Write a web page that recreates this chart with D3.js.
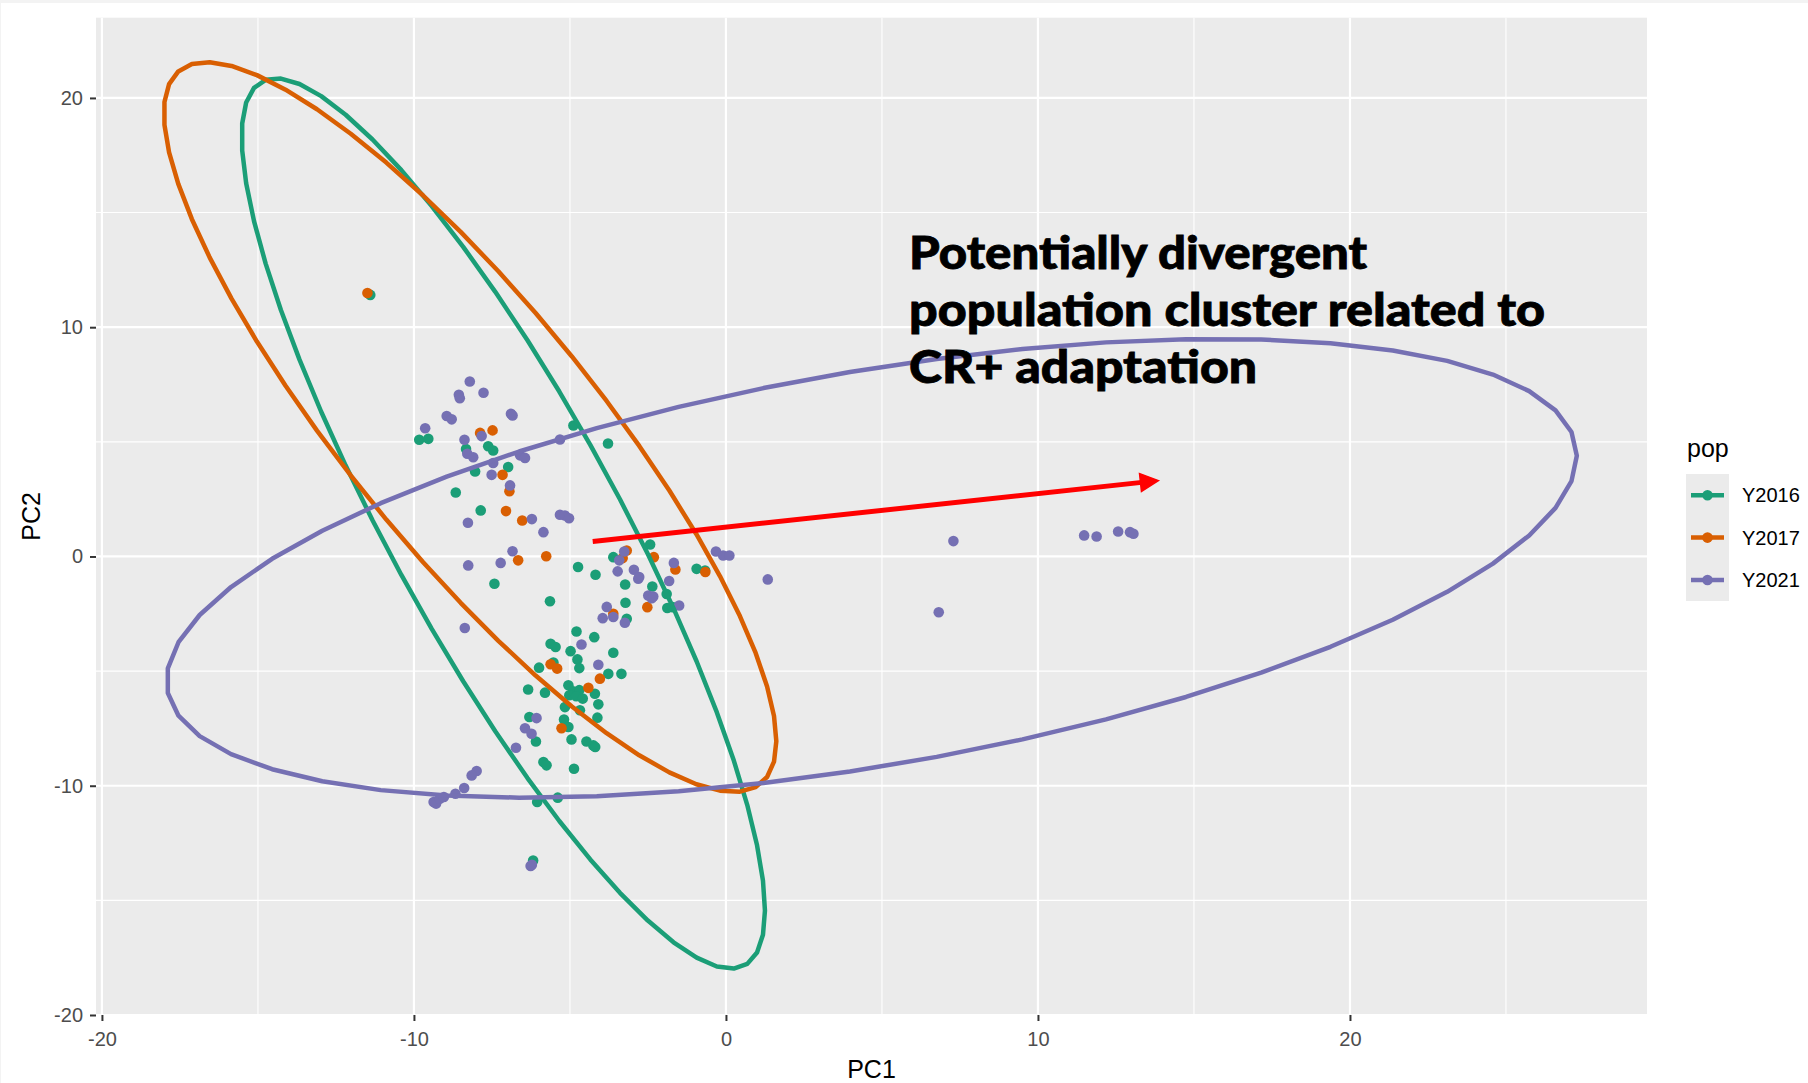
<!DOCTYPE html>
<html lang="en">
<head>
    <meta charset="utf-8">
    <style>
        body { margin: 0; background: #f3f3f3; }
        svg { display: block; }
    </style>
</head>
<body>
    <svg width="1808" height="1083"></svg>
    <script src="https://cdn.jsdelivr.net/npm/d3@7"></script>
    <script>
        // ---------------- data ----------------
        const populations = ["Y2016", "Y2017", "Y2021"];
        const popColors = ["#1B9E77", "#D95F02", "#7570B3"];

        const y2016Points = [
            [-9.83, 5.09], [-9.54, 5.13], [-4.89, 5.71], [-3.78, 4.93], [-8.33, 4.69], [-7.62, 4.81],
            [-7.46, 4.62], [-6.98, 3.90], [-8.04, 3.71], [-8.66, 2.79], [-7.86, 2.01], [-7.42, -1.19],
            [-5.64, -1.95], [-4.74, -0.46], [-4.18, -0.80], [-3.61, -0.03], [-2.43, 0.52], [-3.23, -1.22],
            [-2.36, -1.31], [-1.90, -1.64], [-1.88, -2.25], [-1.71, -2.21], [-3.22, -2.02], [-3.18, -2.72],
            [-0.94, -0.54], [-0.67, -0.61], [-4.79, -3.27], [-4.22, -3.52], [-5.62, -3.81], [-5.46, -3.95],
            [-4.98, -4.13], [-3.61, -4.20], [-4.76, -4.49], [-4.70, -4.87], [-5.99, -4.85], [-5.53, -4.63],
            [-3.77, -5.12], [-3.35, -5.12], [-6.34, -5.80], [-5.80, -5.94], [-5.05, -5.62], [-4.90, -5.88],
            [-4.70, -5.83], [-5.02, -6.05], [-4.80, -6.10], [-4.59, -6.20], [-4.20, -5.99], [-4.09, -6.45],
            [-5.16, -6.57], [-4.68, -6.71], [-4.12, -7.03], [-5.19, -7.11], [-6.30, -7.00], [-5.05, -7.44],
            [-4.95, -7.98], [-4.47, -8.07], [-4.25, -8.24], [-4.19, -8.31], [-6.09, -8.07], [-5.85, -8.97],
            [-5.75, -9.11], [-4.87, -9.26], [-6.05, -10.71], [-5.39, -10.52], [-6.18, -13.26], [-11.40, 11.41]
        ];
        const y2017Points = [
            [-11.49, 11.49], [-7.88, 5.39], [-7.48, 5.50], [-7.16, 3.56], [-6.94, 2.85], [-7.05, 1.98],
            [-6.53, 1.57], [-6.66, -0.17], [-5.76, 0.01], [-3.18, 0.26], [-3.31, -0.07], [-2.31, -0.03],
            [-1.62, -0.57], [-0.66, -0.68], [-2.52, -2.21], [-3.61, -2.50], [-5.62, -4.70], [-5.41, -4.89],
            [-4.04, -5.33], [-4.41, -5.73], [-5.27, -7.49]
        ];
        const y2021Points = [
            [-8.21, 7.63], [-8.56, 7.05], [-8.53, 6.90], [-7.77, 7.14], [-8.95, 6.13], [-8.79, 5.98],
            [-6.89, 6.22], [-6.84, 6.15], [-9.64, 5.59], [-8.38, 5.09], [-7.83, 5.25], [-8.29, 4.48],
            [-8.10, 4.33], [-7.46, 4.08], [-6.60, 4.41], [-6.44, 4.30], [-5.32, 5.10], [-7.51, 3.56],
            [-6.92, 3.10], [-8.27, 1.47], [-6.22, 1.63], [-5.85, 1.06], [-5.32, 1.82], [-5.16, 1.79],
            [-5.03, 1.67], [-6.84, 0.23], [-8.26, -0.39], [-7.22, -0.28], [-3.26, 0.22], [-3.42, -0.17],
            [-3.47, -0.65], [-2.95, -0.58], [-2.81, -0.97], [-2.78, -0.90], [-1.67, -0.28], [-1.82, -1.07],
            [-2.49, -1.70], [-2.38, -1.82], [-2.33, -1.75], [-1.50, -2.14], [-0.32, 0.22], [-0.09, 0.04],
            [0.11, 0.04], [1.34, -1.00], [-3.82, -2.20], [-3.95, -2.69], [-3.61, -2.64], [-3.24, -2.89],
            [-8.37, -3.12], [-4.63, -3.84], [-4.09, -4.72], [-6.07, -7.05], [-6.44, -7.49], [-6.23, -7.73],
            [-6.73, -8.34], [-7.99, -9.36], [-8.15, -9.55], [-9.37, -10.71], [-9.29, -10.78], [-9.17, -10.57],
            [-9.04, -10.49], [-8.67, -10.35], [-8.39, -10.10], [-6.26, -13.50], [-6.22, -13.45],
            [7.29, 0.67], [6.82, -2.43], [11.48, 0.92], [11.88, 0.87], [12.57, 1.09], [12.95, 1.06], [13.06, 0.99]
        ];

        // stat_ellipse results: centre and shape matrix (sxx, syy, sxy) per population
        const ellipseCenters = [[-7.135, 1.44], [-8.2, 5.645], [4.67, -0.515]];
        const ellipseShapes = [[70.31, 377.1, -141.6], [96.33, 253.3, -134.5], [510.8, 100.1, 111.0]];

        const xTicks = [-20, -10, 0, 10, 20];
        const yTicks = [-20, -10, 0, 10, 20];
        const xMinor = [-15, -5, 5, 15, 25];
        const yMinor = [-15, -5, 5, 15];

        const arrowFrom = [-4.27, 0.65];
        const arrowTo = [13.86, 3.31];
        const noteLines = ["Potentially divergent", "population cluster related to", "CR+ adaptation"];
        const notePos = [5.87, 12.55];

        // ---------------- layout ----------------
        const svg = d3.select("svg");
        svg.append("rect").attr("x", 1).attr("y", 3).attr("width", 1807).attr("height", 1080).attr("fill", "#fff");

        const panel = { left: 96, right: 1647, top: 17.7, bottom: 1015 };
        const x = d3.scaleLinear().domain([-20.19, 29.52]).range([panel.left, panel.right]);
        const y = d3.scaleLinear().domain([-20.0, 23.5]).range([panel.bottom, panel.top]);
        const font = "'Liberation Sans', Arial, sans-serif";

        svg.append("rect")
            .attr("x", panel.left).attr("y", panel.top)
            .attr("width", panel.right - panel.left).attr("height", panel.bottom - panel.top)
            .attr("fill", "#EBEBEB");

        const grid = svg.append("g");
        grid.selectAll(".vminor").data(xMinor).join("line")
            .attr("x1", d => x(d)).attr("x2", d => x(d)).attr("y1", panel.top).attr("y2", panel.bottom)
            .attr("stroke", "#fff").attr("stroke-width", 1.1);
        grid.selectAll(".hminor").data(yMinor).join("line")
            .attr("y1", d => y(d)).attr("y2", d => y(d)).attr("x1", panel.left).attr("x2", panel.right)
            .attr("stroke", "#fff").attr("stroke-width", 1.1);
        grid.selectAll(".vmajor").data(xTicks).join("line")
            .attr("x1", d => x(d)).attr("x2", d => x(d)).attr("y1", panel.top).attr("y2", panel.bottom)
            .attr("stroke", "#fff").attr("stroke-width", 2.2);
        grid.selectAll(".hmajor").data(yTicks).join("line")
            .attr("y1", d => y(d)).attr("y2", d => y(d)).attr("x1", panel.left).attr("x2", panel.right)
            .attr("stroke", "#fff").attr("stroke-width", 2.2);

        // axes
        const xAxis = svg.append("g").attr("transform", `translate(0, ${panel.bottom})`)
            .call(d3.axisBottom(x).tickValues(xTicks).tickSize(6).tickPadding(11).tickFormat(d3.format("d")));
        const yAxis = svg.append("g").attr("transform", `translate(${panel.left}, 0)`)
            .call(d3.axisLeft(y).tickValues(yTicks).tickSize(6).tickPadding(7).tickFormat(d3.format("d")));
        [xAxis, yAxis].forEach(a => {
            a.select(".domain").remove();
            a.selectAll(".tick line").attr("stroke", "#333").attr("stroke-width", 2);
            a.selectAll(".tick text").attr("fill", "#4D4D4D").style("font-family", font).style("font-size", "20px");
        });
        // plain hyphen-minus like R
        svg.selectAll(".tick text").text(d => String(d));

        svg.append("text").attr("x", (panel.left + panel.right) / 2).attr("y", 1078)
            .attr("text-anchor", "middle").style("font-family", font).style("font-size", "25px").text("PC1");
        svg.append("text").attr("transform", `translate(40, ${(panel.top + panel.bottom) / 2}) rotate(-90)`)
            .attr("text-anchor", "middle").style("font-family", font).style("font-size", "25px").text("PC2");

        // points
        const plot = svg.append("g");
        [y2016Points, y2017Points, y2021Points].forEach((pts, i) => {
            plot.append("g").selectAll("circle").data(pts).join("circle")
                .attr("cx", d => x(d[0])).attr("cy", d => y(d[1])).attr("r", 5.3)
                .attr("fill", popColors[i]);
        });

        // ellipses (51 segments, cholesky of shape matrix like stat_ellipse)
        const line = d3.line().x(d => x(d[0])).y(d => y(d[1])).curve(d3.curveLinearClosed);
        ellipseShapes.forEach((s, i) => {
            const [sxx, syy, sxy] = s;
            const r11 = Math.sqrt(sxx), r12 = sxy / r11, r22 = Math.sqrt(syy - r12 * r12);
            const c = ellipseCenters[i];
            const pts = d3.range(51).map(k => {
                const t = k / 51 * 2 * Math.PI;
                return [c[0] + Math.cos(t) * r11, c[1] + Math.cos(t) * r12 + Math.sin(t) * r22];
            });
            plot.append("path").attr("d", line(pts)).attr("fill", "none")
                .attr("stroke", popColors[i]).attr("stroke-width", 4.5).attr("stroke-linejoin", "round");
        });

        // arrow
        const x0 = x(arrowFrom[0]), y0 = y(arrowFrom[1]), x1 = x(arrowTo[0]), y1 = y(arrowTo[1]);
        const len = Math.hypot(x1 - x0, y1 - y0), ux = (x1 - x0) / len, uy = (y1 - y0) / len;
        const headLen = 18, headW = 9;
        svg.append("line").attr("x1", x0).attr("y1", y0)
            .attr("x2", x1 - ux * headLen * 0.8).attr("y2", y1 - uy * headLen * 0.8)
            .attr("stroke", "#FF0000").attr("stroke-width", 5);
        const bx = x1 - ux * headLen, by = y1 - uy * headLen;
        svg.append("polygon")
            .attr("points", [[x1, y1], [bx - uy * headW, by + ux * headW], [bx + uy * headW, by - ux * headW]].join(" "))
            .attr("fill", "#FF0000").attr("stroke", "#FF0000").attr("stroke-width", 1.5).attr("stroke-linejoin", "miter");

        // annotation
        const noteWidths = [458, 636, 348];
        svg.append("g").selectAll("text").data(noteLines).join("text")
            .attr("x", x(notePos[0])).attr("y", (d, i) => y(notePos[1]) + i * 57.3)
            .attr("textLength", (d, i) => noteWidths[i]).attr("lengthAdjust", "spacingAndGlyphs")
            .style("font-family", "Lato, 'Open Sans', sans-serif").style("font-weight", 900)
            .style("font-size", "45px").attr("fill", "#000")
            .attr("stroke", "#000").attr("stroke-width", 0.8).text(d => d);

        // legend
        const legend = svg.append("g");
        legend.append("text").attr("x", 1687).attr("y", 457)
            .style("font-family", font).style("font-size", "25px").text("pop");
        legend.append("rect").attr("x", 1686).attr("y", 474).attr("width", 43).attr("height", 127).attr("fill", "#EBEBEB");
        const keys = legend.selectAll(".key").data(populations).join("g")
            .attr("transform", (d, i) => `translate(1686, ${474 + 21.2 + i * 42.4})`);
        keys.append("line").attr("x1", 5).attr("x2", 38).attr("y1", 0).attr("y2", 0)
            .attr("stroke", (d, i) => popColors[i]).attr("stroke-width", 4.5);
        keys.append("circle").attr("cx", 21.5).attr("cy", 0).attr("r", 5.3).attr("fill", (d, i) => popColors[i]);
        keys.append("text").attr("x", 56).attr("y", 0).attr("dy", "0.35em")
            .style("font-family", font).style("font-size", "20px").text(d => d);
    </script>
</body>
</html>
